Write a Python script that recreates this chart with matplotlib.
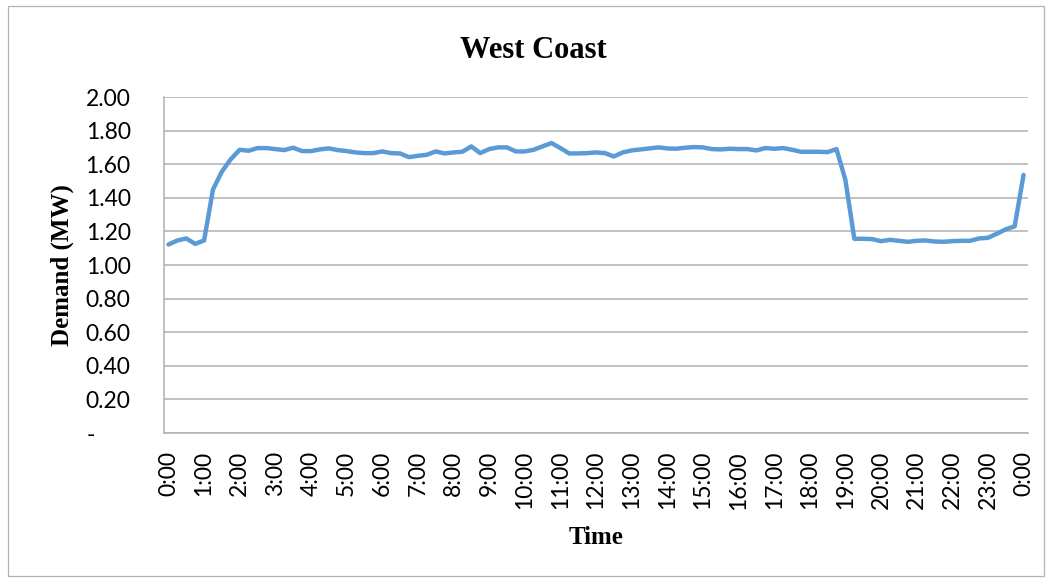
import matplotlib
matplotlib.use("Agg")
import matplotlib.pyplot as plt
from matplotlib.patches import Rectangle
from matplotlib.transforms import ScaledTranslation

# 15-minute demand readings over one day (0:00 through the following 0:00)
times = [f"{(q * 15) // 60 % 24}:{(q * 15) % 60:02d}" for q in range(97)]
demand = [
    1.122, 1.146, 1.158, 1.126, 1.146, 1.450, 1.556, 1.630, 1.686, 1.680,
    1.696, 1.696, 1.690, 1.684, 1.698, 1.678, 1.678, 1.688, 1.694, 1.684,
    1.678, 1.670, 1.666, 1.666, 1.676, 1.666, 1.664, 1.642, 1.650, 1.656,
    1.676, 1.664, 1.670, 1.674, 1.706, 1.666, 1.690, 1.700, 1.700, 1.676,
    1.676, 1.686, 1.706, 1.726, 1.696, 1.664, 1.664, 1.666, 1.670, 1.666,
    1.646, 1.670, 1.682, 1.688, 1.694, 1.700, 1.694, 1.692, 1.698, 1.702,
    1.700, 1.690, 1.688, 1.692, 1.690, 1.690, 1.682, 1.696, 1.692, 1.696,
    1.686, 1.674, 1.674, 1.674, 1.672, 1.690, 1.506, 1.156, 1.156, 1.154,
    1.142, 1.150, 1.144, 1.138, 1.144, 1.146, 1.140, 1.138, 1.142, 1.144,
    1.144, 1.158, 1.162, 1.186, 1.212, 1.230, 1.536,
]
y_ticks = [0.0, 0.2, 0.4, 0.6, 0.8, 1.0, 1.2, 1.4, 1.6, 1.8, 2.0]
y_tick_labels = ["-"] + [f"{v:.2f}" for v in y_ticks[1:]]

W, H = 1049, 579
fig = plt.figure(figsize=(W / 100, H / 100), dpi=100)
fig.patch.set_facecolor("white")

# chart outer border
fig.patches.append(Rectangle((8 / W, 3 / H), 1036 / W, 570 / H,
                             transform=fig.transFigure, fill=False,
                             edgecolor="#b3b3b3", linewidth=0.9))

left, right, top, bottom = 164 / W, 1028 / W, 97 / H, 433 / H
ax = fig.add_axes([left, 1 - bottom, right - left, bottom - top])

x = list(range(len(times)))
ax.plot(x, demand, color="#5B9BD5", linewidth=3.2, solid_joinstyle="round",
        solid_capstyle="round", zorder=3)

ax.set_xlim(-0.5, len(times) - 0.5)
ax.set_ylim(0, 2.0)

tick_font = {"family": ["Lato", "DejaVu Sans"], "size": 16.5}
ax.set_xticks(x[::4])
ax.set_xticklabels(times[::4], rotation=90, fontdict=tick_font)
ax.set_yticks(y_ticks)
ax.set_yticklabels(y_tick_labels, fontdict=tick_font)
ax.tick_params(axis="both", length=0, colors="black")
ax.tick_params(axis="y", pad=24)
ax.tick_params(axis="x", pad=13)

# the dash for zero sits left of the value column
zero_label = ax.get_yticklabels()[0]
zero_label.set_transform(zero_label.get_transform() +
                         ScaledTranslation(-36 / 100, 0, fig.dpi_scale_trans))

ax.grid(axis="y", color="#b0b0b0", linewidth=1.1)
ax.set_axisbelow(True)
for side in ("top", "right"):
    ax.spines[side].set_visible(False)
for side in ("left", "bottom"):
    ax.spines[side].set_color("#b0b0b0")
    ax.spines[side].set_linewidth(1.1)

label_font = {"family": ["Liberation Serif", "DejaVu Serif"], "size": 18,
              "weight": "bold"}
ax.set_xlabel("Time", fontdict=label_font, labelpad=12)
ax.set_ylabel("Demand (MW)", fontdict=label_font, labelpad=8)

fig.text(533 / W, 1 - 58 / H, "West Coast", ha="center", va="baseline",
         family=["Liberation Serif", "DejaVu Serif"], size=22, weight="bold")

fig.savefig("out.png", dpi=100)
